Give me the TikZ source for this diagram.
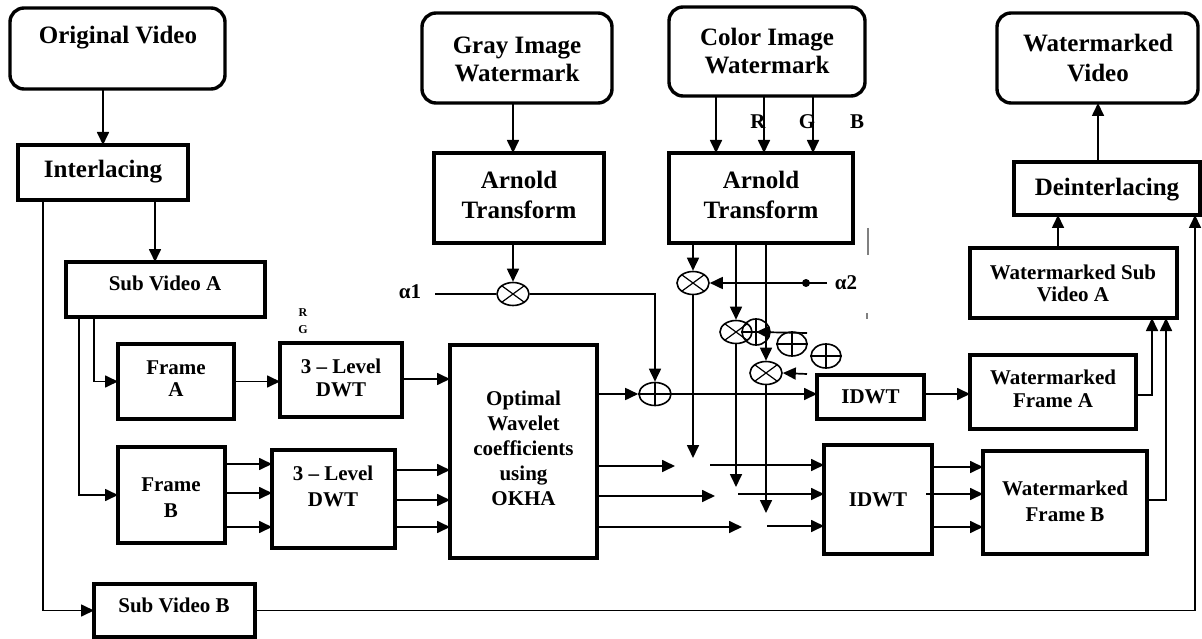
\documentclass[tikz,border=0pt]{standalone}
\usepackage{fontspec}
\setmainfont{Liberation Serif}
\usetikzlibrary{arrows.meta,shapes.geometric}
\begin{document}
\begin{tikzpicture}[x=1pt,y=-1pt,
 box/.style={draw, line width=3.4pt, inner sep=0pt, outer sep=0pt},
 rbox/.style={box, rounded corners=14pt},
 big/.style={font=\fontsize{25}{28}\selectfont\bfseries, align=center, inner sep=0pt},
 mid/.style={font=\fontsize{21}{23}\selectfont\bfseries, align=center, inner sep=0pt},
 sml/.style={font=\fontsize{12}{13}\selectfont\bfseries, inner sep=0pt},
 arr/.style={line width=1.7pt, -{Triangle[length=13pt,width=12pt]}},
 ln/.style={line width=1.7pt},
 op/.style={draw, ellipse, line width=1.6pt, inner sep=0pt, minimum width=32pt, minimum height=23pt},
 stray/.style={draw=gray, line width=1.6pt},
]
\useasboundingbox (0,0) rectangle (1202,639);

% ---------- left column ----------
\node[rbox, minimum width=215pt, minimum height=81pt] (ov) at (117.5,48.5) {};
\node[big] (ovt) at (118,38) {Original Video};
\node[box, minimum width=170pt, minimum height=55pt] (il) at (103,172.5) {};
\node[big] (ilt) at (103,172) {Interlacing};
\node[box, minimum width=199pt, minimum height=55pt] (sva) at (165.5,289.5) {};
\node[mid] (svat) at (165,283) {Sub Video A};
\node[box, minimum width=161pt, minimum height=53pt] (svb) at (174.5,610.5) {};
\node[mid] (svbt) at (174,605) {Sub Video B};
\node[box, minimum width=116pt, minimum height=75pt] (fa) at (176,381.5) {};
\node[mid, font=\fontsize{21}{22}\selectfont\bfseries] (fat) at (176,379) {Frame\\A};
\node[box, minimum width=107pt, minimum height=96pt] (fb) at (171.5,495) {};
\node[mid, font=\fontsize{21}{26}\selectfont\bfseries] (fbt) at (171,498) {Frame\\B};
\node[box, minimum width=122pt, minimum height=74pt] (dwa) at (341,380) {};
\node[mid] (dwat) at (341,377.5) {3 – Level\\DWT};
\node[box, minimum width=123pt, minimum height=98pt] (dwb) at (333.5,499) {};
\node[mid, font=\fontsize{21}{26}\selectfont\bfseries] (dwbt) at (333,486) {3 – Level\\DWT};
\node[sml] (rsm) at (303,313) {R};
\node[sml] (gsm) at (303,330) {G};
\node[box, minimum width=147pt, minimum height=213pt] (ok) at (523.5,451.5) {};
\node[mid, font=\fontsize{21}{25}\selectfont\bfseries] (okt) at (523.5,448.5) {Optimal\\Wavelet\\coefficients\\using\\OKHA};

% ---------- gray branch ----------
\node[rbox, minimum width=190pt, minimum height=90pt] (gw) at (517,58) {};
\node[big] (gwt) at (517,59) {Gray Image\\Watermark};
\node[box, minimum width=170pt, minimum height=90pt] (ga) at (519,198) {};
\node[big, font=\fontsize{25}{30}\selectfont\bfseries] (gat) at (519,195) {Arnold\\Transform};
\node[op] (m1a) at (513,294) {};
\node[mid] (al1) at (410,292) {α1};
\coordinate (al1s) at (435,294);
\node[op] (ad1) at (655,394) {};

% ---------- colour branch ----------
\node[rbox, minimum width=196pt, minimum height=89pt] (cw) at (767,51.5) {};
\node[big] (cwt) at (767,51) {Color Image\\Watermark};
\node[box, minimum width=184pt, minimum height=90pt] (ca) at (761,198) {};
\node[big, font=\fontsize{25}{30}\selectfont\bfseries] (cat) at (761,195) {Arnold\\Transform};
\node[mid] (lr) at (758,122) {R};
\node[mid] (lg) at (807,122) {G};
\node[mid] (lb) at (857,122) {B};
\node[op] (m1) at (693,283) {};
\node[op] (m2) at (736,332) {};
\node[op, minimum width=28pt, minimum height=26pt] (a2) at (756,332) {};
\node[op, minimum width=30pt, minimum height=24pt] (a3) at (792,344) {};
\node[op, minimum width=30pt, minimum height=24pt] (a4) at (826,356) {};
\node[op] (m3) at (766,373) {};
\node[mid] (al2) at (846,283) {α2};
\coordinate (al2s) at (827,283);
\node[circle, fill, inner sep=0pt, minimum size=8pt] (dot) at (806,283) {};
\coordinate (a2s) at (807,333);
\coordinate (m3s) at (807,374);

% ---------- right side ----------
\node[rbox, minimum width=201pt, minimum height=90pt] (wv) at (1097.5,58) {};
\node[big, font=\fontsize{25}{30}\selectfont\bfseries] (wvt) at (1098,58) {Watermarked\\Video};
\node[box, minimum width=186pt, minimum height=53pt] (di) at (1107,188.5) {};
\node[big] (dit) at (1107,190) {Deinterlacing};
\node[box, minimum width=207pt, minimum height=70pt] (wsva) at (1073.5,283) {};
\node[mid, font=\fontsize{21}{22}\selectfont\bfseries] (wsvat) at (1073,283) {Watermarked Sub\\Video A};
\node[box, minimum width=166pt, minimum height=74pt] (wfa) at (1053,392) {};
\node[mid] (wfat) at (1053,388.5) {Watermarked\\Frame A};
\node[box, minimum width=107pt, minimum height=44pt] (ida) at (870.5,397) {};
\node[mid] (idat) at (870.5,397) {IDWT};
\node[box, minimum width=108pt, minimum height=109pt] (idb) at (878,499.5) {};
\node[mid] (idbt) at (878,500) {IDWT};
\node[box, minimum width=164pt, minimum height=103pt] (wfb) at (1065,502.5) {};
\node[mid, font=\fontsize{21}{26}\selectfont\bfseries] (wfbt) at (1065,501) {Watermarked\\Frame B};

% operator symbols
\foreach \n in {m1a,m1,m2,m3} \draw[line width=1.2pt] (\n.north east) -- (\n.south west) (\n.north west) -- (\n.south east);
\foreach \n in {ad1,a2,a3,a4} \draw[line width=1.2pt] (\n.north) -- (\n.south) (\n.west) -- (\n.east);

% ---------- connectors: left ----------
\draw[arr] (ov.south -| il.north) -- (il.north);
\draw[arr] (155,0 |- il.south) -- (155,0 |- sva.north);
\draw[arr] (43,0 |- il.south) |- (svb.west);
\draw[arr] (94,0 |- sva.south) |- (fa.west);
\draw[arr] (79,0 |- sva.south) |- (fb.west);
\draw[arr] (fa.east) -- (fa.east -| dwa.west);
\foreach \y in {464,493,527} \draw[arr] (fb.east |- 0,\y) -- (dwb.west |- 0,\y);
\draw[arr] (dwa.east |- 0,379) -- (ok.west |- 0,379);
\foreach \y in {470,500,527} \draw[arr] (dwb.east |- 0,\y) -- (ok.west |- 0,\y);

% ---------- connectors: gray branch ----------
\draw[arr] (513,0 |- gw.south) -- (513,0 |- ga.north);
\draw[arr] (513,0 |- ga.south) -- (m1a.north);
\draw[ln] (al1s) -- (m1a.west);
\draw[arr] (m1a.east) -| (ad1.north);
\draw[arr] (ok.east |- ad1) -- (ad1.west);
\draw[arr] (ad1.east) -- (ad1.east -| ida.west);

% ---------- connectors: colour branch ----------
\foreach \x in {716,764,813} \draw[arr] (\x,0 |- cw.south) -- (\x,0 |- ca.north);
\draw[arr] (693,0 |- ca.south) -- (m1.north);
\draw[arr] (al2s) -- (m1.east);
\draw[arr] (m1.south) -- (m1.south |- 0,458);
\draw[arr] (736,0 |- ca.south) -- (m2.north);
\draw[arr] (m2.south) -- (m2.south |- 0,487);
\draw[arr] (a2s) -- (a2.center);
\draw[arr] (766,0 |- ca.south) -- (m3.north);
\draw[arr] (m3s) -- (m3.east);
\draw[arr] (m3.south) -- (m3.south |- 0,513);

% OKHA outputs towards IDWT B
\coordinate (o1e) at (675,466); \coordinate (o1s) at (710,465);
\coordinate (o2e) at (715,496); \coordinate (o2s) at (738,494);
\coordinate (o3e) at (742,527); \coordinate (o3s) at (767,526);
\draw[arr] (ok.east |- o1e) -- (o1e);
\draw[arr] (o1s) -- (idb.west |- o1s);
\draw[arr] (ok.east |- o2e) -- (o2e);
\draw[arr] (o2s) -- (idb.west |- o2s);
\draw[arr] (ok.east |- o3e) -- (o3e);
\draw[arr] (o3s) -- (idb.west |- o3s);

% ---------- connectors: right ----------
\draw[arr] (ida.east |- ad1) -- (wfa.west |- ad1);
\draw[arr] (idb.east |- 0,467) -- (wfb.west |- 0,467);
\draw[arr] (926,494) -- (wfb.west |- 0,494);
\draw[arr] (idb.east |- 0,527) -- (wfb.west |- 0,527);
\draw[arr] (wfa.east |- 0,395) -| (1152,0 |- wsva.south);
\draw[arr] (wfb.east |- 0,500) -| (1166,0 |- wsva.south);
\draw[arr] (1058,0 |- wsva.north) -- (1058,0 |- di.south);
\draw[arr] (svb.east) -| (1195,0 |- di.south);
\draw[arr] (1098,0 |- di.north) -- (1098,0 |- wv.south);

% stray marks
\draw[stray] (868,228) -- (868,255);
\draw[stray] (867,313) -- (867,319);
\end{tikzpicture}
\end{document}
